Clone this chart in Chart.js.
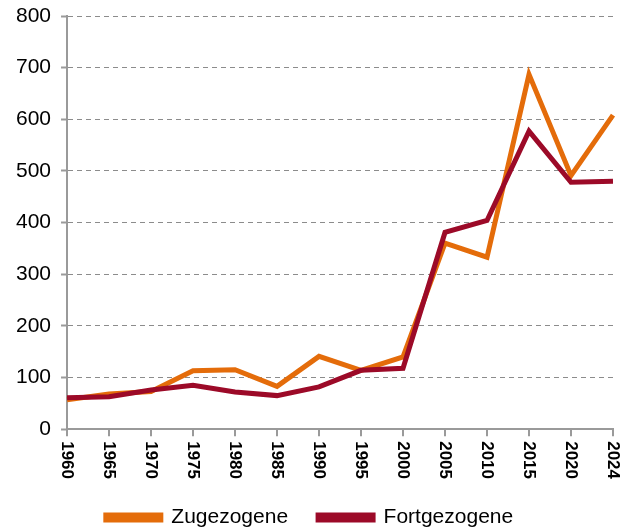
<!DOCTYPE html>
<html>
<head>
<meta charset="utf-8">
<script src="https://cdn.jsdelivr.net/npm/chart.js@4/dist/chart.umd.min.js"></script>
<style>
  html, body { margin:0; padding:0; background:#fff; }
  #wrap { width:638px; height:528px; }
</style>
</head>
<body>
<div id="wrap"><canvas id="lineChart"></canvas></div>
<script>
// ── Data ──
const YEARS = ['1960','1965','1970','1975','1980','1985','1990','1995','2000','2005','2010','2015','2020','2024'];
const ZUGEZOGENE   = [57, 68, 73, 113, 115, 83, 141, 114, 140, 360, 333, 687, 491, 608];
const FORTGEZOGENE = [61, 63, 76, 85, 72, 65, 82, 114, 118, 381, 404, 577, 478, 480];
const Y_MIN = 0, Y_MAX = 800, Y_STEP = 100;

const ORANGE = '#E46C0A';
const RED = '#9C0A28';
const GRID = '#8c8c8c';
const AXIS = '#9a9a9a';
const FONT = '"Liberation Sans", Arial, sans-serif';

// x labels in the reference read top-to-bottom, so draw them ourselves
const rotatedXLabels = {
  id: 'rotatedXLabels',
  afterDraw(chart) {
    const x = chart.scales.x;
    const ctx = chart.ctx;
    ctx.save();
    ctx.font = 'bold 17px ' + FONT;
    ctx.fillStyle = '#000';
    ctx.textAlign = 'left';
    ctx.textBaseline = 'middle';
    YEARS.forEach((lab, i) => {
      const px = x.getPixelForTick(i);
      ctx.save();
      ctx.translate(px, x.top + 12);
      ctx.rotate(Math.PI / 2);
      ctx.fillText(lab, 0, 0);
      ctx.restore();
    });
    ctx.restore();
  }
};

new Chart(document.getElementById('lineChart').getContext('2d'), {
  type: 'line',
  data: {
    labels: YEARS,
    datasets: [
      {
        label: 'Zugezogene',
        data: ZUGEZOGENE,
        borderColor: ORANGE, backgroundColor: ORANGE,
        borderWidth: 5, pointRadius: 0, tension: 0, fill: false,
        order: 1,
      },
      {
        label: 'Fortgezogene',
        data: FORTGEZOGENE,
        borderColor: RED, backgroundColor: RED,
        borderWidth: 5, pointRadius: 0, tension: 0, fill: false,
        order: 0,
      }
    ]
  },
  plugins: [rotatedXLabels],
  options: {
    responsive: true,
    maintainAspectRatio: false,
    animation: false,
    layout: { padding: { left: 6, right: 25, top: 16, bottom: -10 } },
    plugins: {
      tooltip: { enabled: false },
      legend: {
        position: 'bottom',
        labels: {
          boxWidth: 55, boxHeight: 5, padding: 30,
          color: '#000',
          font: { size: 21, family: FONT },
          sort: (a, b) => a.datasetIndex - b.datasetIndex,
        }
      }
    },
    scales: {
      x: {
        offset: false,
        afterFit: scale => { scale.height += 3; },
        grid: { display: true, drawOnChartArea: false, drawTicks: true, tickLength: 7, color: AXIS, lineWidth: 2 },
        border: { display: true, color: AXIS, width: 2 },
        ticks: {
          color: 'transparent', minRotation: 90, maxRotation: 90, autoSkip: false, padding: 0,
          font: { size: 17, weight: 'bold', family: FONT },
        }
      },
      y: {
        min: Y_MIN, max: Y_MAX,
        grid: { color: GRID, lineWidth: 1, tickLength: 6, tickColor: AXIS, tickWidth: 2, tickBorderDash: [] },
        border: { display: true, color: AXIS, width: 2, dash: [5, 4] },
        ticks: {
          stepSize: Y_STEP, padding: 10, color: '#000',
          font: { size: 21, family: FONT, lineHeight: 0.5 },
        }
      }
    }
  }
});
</script>
</body>
</html>
